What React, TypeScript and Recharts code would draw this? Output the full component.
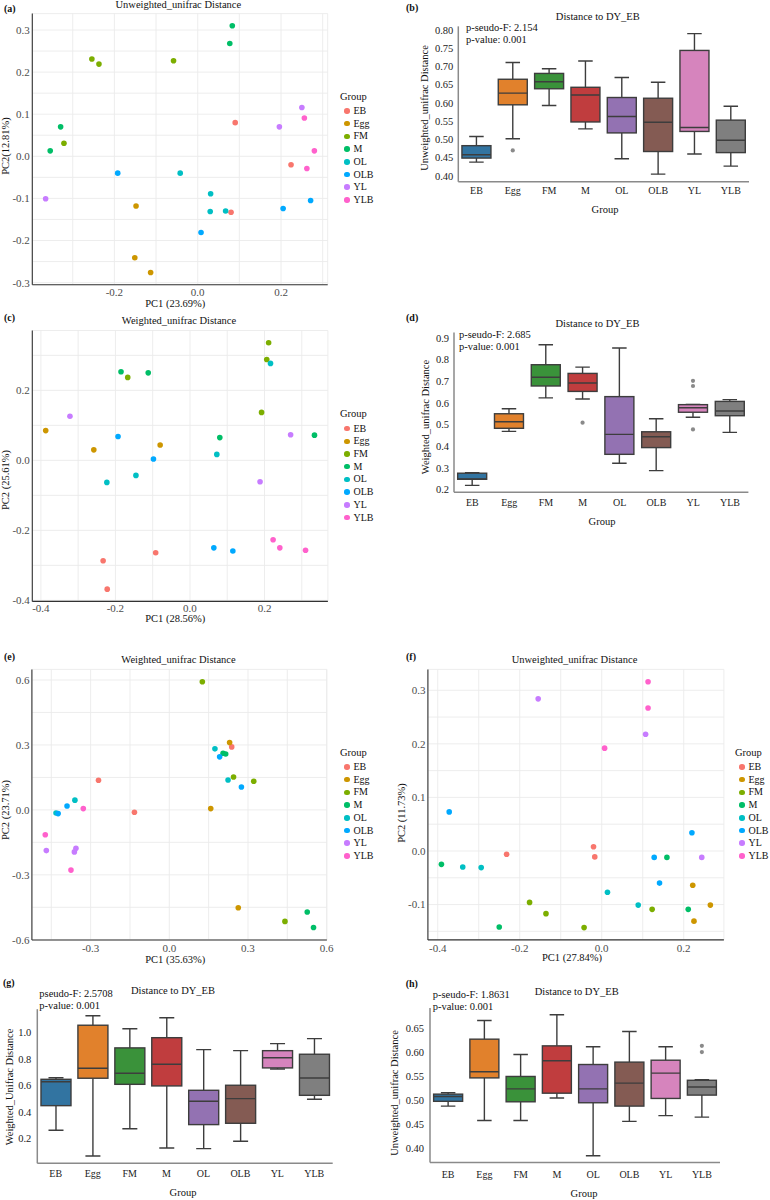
import { ScatterChart, Scatter, XAxis, YAxis, CartesianGrid, BarChart, Bar } from 'recharts';

const FONT = "'Liberation Serif', 'Times New Roman', serif";

const groups = ['EB', 'Egg', 'FM', 'M', 'OL', 'OLB', 'YL', 'YLB'];
const hueColors = ['#F8766D', '#CD9600', '#7CAE00', '#00BE67', '#00BFC4', '#00A9FF', '#C77CFF', '#FF61CC'];
const boxColors = ['#3274A1', '#E1812C', '#3A923A', '#C03D3E', '#9372B2', '#845B53', '#D684BD', '#7F7F7F'];

// group of each sample in the PCoA plots
const sampleGroup = [
  'EB', 'EB', 'EB', 'Egg', 'Egg', 'Egg', 'FM', 'FM', 'FM', 'FM', 'M', 'M', 'M', 'M',
  'OL', 'OL', 'OL', 'OL', 'OLB', 'OLB', 'OLB', 'OLB', 'YL', 'YL', 'YL', 'YLB', 'YLB', 'YLB',
];

// (a) unweighted unifrac PCoA
const aPC1 = [0.090, 0.224, 0.080, -0.148, -0.151, -0.113, -0.254, -0.237, -0.058, -0.321, 0.083, 0.077, -0.329, -0.354,
  -0.042, 0.031, 0.030, 0.067, -0.192, 0.008, 0.205, 0.271, 0.250, 0.196, -0.365, 0.256, 0.280, 0.262];
const aPC2 = [0.080, -0.020, -0.133, -0.118, -0.241, -0.276, 0.231, 0.219, 0.227, 0.031, 0.310, 0.268, 0.070, 0.013,
  -0.040, -0.089, -0.131, -0.130, -0.040, -0.181, -0.124, -0.105, 0.116, 0.070, -0.101, 0.091, 0.013, -0.029];

// (c) weighted unifrac PCoA
const cPC1 = [-0.233, -0.222, -0.092, -0.387, -0.258, -0.080, 0.211, 0.206, 0.192, -0.167, -0.185, -0.112, 0.080, 0.334,
  0.216, 0.072, -0.145, -0.223, -0.193, -0.098, 0.064, 0.115, -0.322, 0.270, 0.188, 0.223, 0.241, 0.310];
const cPC2 = [-0.287, -0.368, -0.264, 0.085, 0.030, 0.044, 0.336, 0.288, 0.137, 0.237, 0.253, 0.250, 0.065, 0.072,
  0.277, 0.017, -0.043, -0.063, 0.068, 0.004, -0.250, -0.259, 0.126, 0.073, -0.061, -0.227, -0.250, -0.257];

// (e) weighted unifrac PCoA
const ePC1 = [0.238, -0.270, -0.133, 0.230, 0.158, 0.263, 0.126, 0.245, 0.322, 0.441, 0.205, 0.215, 0.526, 0.550,
  0.174, 0.224, -0.360, -0.432, 0.192, 0.275, -0.390, -0.424, -0.469, -0.356, -0.362, -0.328, -0.473, -0.375];
const ePC2 = [0.291, 0.137, -0.011, 0.311, 0.006, -0.452, 0.592, 0.152, 0.132, -0.515, 0.262, 0.258, -0.472, -0.543,
  0.282, 0.138, 0.045, -0.014, 0.245, 0.106, 0.018, -0.017, -0.188, -0.177, -0.194, 0.006, -0.115, -0.278];

// (f) unweighted unifrac PCoA
const fPC1 = [-0.232, -0.020, -0.017, 0.222, 0.265, 0.225, -0.176, -0.136, -0.043, 0.123, -0.391, 0.159, 0.211, -0.250,
  -0.339, -0.294, 0.014, 0.089, -0.372, 0.220, 0.128, 0.141, -0.155, 0.107, 0.244, 0.113, 0.113, 0.007];
const fPC2 = [-0.006, 0.008, -0.011, -0.064, -0.101, -0.131, -0.096, -0.117, -0.143, -0.109, -0.025, -0.012, -0.109, -0.142,
  -0.030, -0.031, -0.077, -0.101, 0.073, 0.034, -0.012, -0.060, 0.284, 0.218, -0.012, 0.316, 0.267, 0.192];

// box plots: distance to DY_EB (EB, Egg, FM, M, OL, OLB, YL, YLB)
const bMin = [0.438, 0.502, 0.593, 0.529, 0.447, 0.405, 0.460, 0.427];
const bQ1 = [0.449, 0.595, 0.639, 0.548, 0.518, 0.467, 0.522, 0.464];
const bMed = [0.458, 0.627, 0.658, 0.622, 0.563, 0.547, 0.533, 0.498];
const bQ3 = [0.483, 0.665, 0.681, 0.643, 0.615, 0.613, 0.744, 0.553];
const bMax = [0.508, 0.711, 0.694, 0.715, 0.670, 0.657, 0.790, 0.591];
const bOut = [[], [0.470], [], [], [], [], [], []];

const dMin = [0.220, 0.469, 0.623, 0.618, 0.322, 0.288, 0.534, 0.464];
const dQ1 = [0.248, 0.483, 0.678, 0.653, 0.363, 0.394, 0.557, 0.541];
const dMed = [0.249, 0.513, 0.718, 0.692, 0.455, 0.444, 0.578, 0.563];
const dQ3 = [0.276, 0.550, 0.776, 0.736, 0.629, 0.467, 0.592, 0.607];
const dMax = [0.278, 0.573, 0.868, 0.765, 0.853, 0.527, 0.593, 0.615];
const dOut = [[], [], [], [0.509], [], [], [0.702, 0.678, 0.478], []];

const gMin = [0.263, 0.069, 0.275, 0.130, 0.125, 0.180, 0.726, 0.497];
const gQ1 = [0.449, 0.656, 0.610, 0.598, 0.306, 0.316, 0.734, 0.527];
const gMed = [0.630, 0.731, 0.694, 0.761, 0.482, 0.502, 0.811, 0.658];
const gQ3 = [0.648, 1.056, 0.885, 0.962, 0.565, 0.603, 0.864, 0.837];
const gMax = [0.660, 1.128, 1.030, 1.113, 0.872, 0.864, 0.917, 0.955];
const gOut = [[], [], [], [], [], [], [], []];

const hMin = [0.488, 0.458, 0.458, 0.505, 0.384, 0.456, 0.468, 0.465];
const hQ1 = [0.498, 0.547, 0.497, 0.515, 0.495, 0.488, 0.504, 0.511];
const hMed = [0.508, 0.560, 0.524, 0.583, 0.524, 0.536, 0.557, 0.528];
const hQ3 = [0.513, 0.628, 0.550, 0.614, 0.575, 0.580, 0.584, 0.542];
const hMax = [0.516, 0.667, 0.596, 0.679, 0.612, 0.644, 0.612, 0.543];
const hOut = [[], [], [], [], [], [], [], [0.614, 0.601]];

const isMajor = (v: number, step: number) => Math.abs(v / step - Math.round(v / step)) < 1e-6;

function Txt({ x, y, children, size = 10.5, align = 'center', rotate = false, bold = false, color = '#111' }: any) {
  const tx = align === 'center' ? '-50%' : '0';
  return (
    <div
      style={{
        position: 'absolute', left: x, top: y, whiteSpace: 'nowrap', lineHeight: 1,
        fontFamily: FONT, fontSize: size, fontWeight: bold ? 'bold' : 'normal', color,
        transform: `translate(${tx}, -50%)${rotate ? ' rotate(-90deg)' : ''}`,
      }}
    >
      {children}
    </div>
  );
}

function GroupLegend({ x, y }: { x: number; y: number }) {
  return (
    <>
      <Txt x={x} y={y} align="left" size={10.5}>Group</Txt>
      {groups.map((g, i) => (
        <div key={g}>
          <div style={{
            position: 'absolute', left: x + 4, top: y + 14.3 + i * 12.7 - 2.8,
            width: 5.6, height: 5.6, borderRadius: '50%', background: hueColors[i],
          }} />
          <Txt x={x + 13.5} y={y + 14.3 + i * 12.7} align="left" size={10}>{g}</Txt>
        </div>
      ))}
    </>
  );
}

function ScatterPanel(p: any) {
  const { left, top, width, height, plot, pc1, pc2, xDomain, yDomain, xTicks, yTicks, xStep, yStep, xGap } = p;
  const [x0, x1, y0, y1] = plot;
  const xh = 18;
  const margin = { top: y0 - top, right: left + width - x1, bottom: top + height - y1 - xh, left: 0 };
  const tick = { fill: '#4d4d4d', fontSize: 11, fontFamily: FONT };
  const pts = sampleGroup.map((g, i) => ({ g, x: pc1[i], y: pc2[i] }));
  return (
    <div style={{ position: 'absolute', left, top }}>
      <ScatterChart width={width} height={height} margin={margin}>
        <CartesianGrid stroke="#ebebeb" strokeWidth={0.9} />
        <XAxis
          type="number" dataKey="x" domain={xDomain} ticks={xTicks} allowDataOverflow interval={0} height={xh}
          tickFormatter={(v: number) => (isMajor(v, xStep) ? v.toFixed(1) : '')}
          tickLine={false} tickSize={xGap} tickMargin={2} tick={tick}
          axisLine={{ stroke: '#333', strokeWidth: 1.1 }}
        />
        <YAxis
          type="number" dataKey="y" domain={yDomain} ticks={yTicks} allowDataOverflow interval={0} width={x0 - left}
          tickFormatter={(v: number) => (isMajor(v, yStep) ? v.toFixed(1) : '')}
          tickLine={false} tickSize={1} tickMargin={1.5} tick={tick}
          axisLine={{ stroke: '#333', strokeWidth: 1.1 }}
        />
        {groups.map((g, gi) => (
          <Scatter
            key={g} name={g} data={pts.filter((d) => d.g === g)} fill={hueColors[gi]} isAnimationActive={false}
            shape={(s: any) => <circle cx={s.cx} cy={s.cy} r={2.8} fill={hueColors[gi]} />}
          />
        ))}
      </ScatterChart>
    </div>
  );
}

function BoxShape(props: any) {
  const { x, y, width, height, payload } = props;
  const top = Math.min(y, y + height);
  const h = Math.abs(height);
  const { lo, hi } = payload;
  const py = (v: number) => top + ((hi - v) / (hi - lo)) * h;
  const cx = x + width / 2;
  const cap = width / 4;
  const line = '#3d3d3d';
  return (
    <g>
      <line x1={cx} x2={cx} y1={py(payload.max)} y2={py(payload.q3)} stroke={line} strokeWidth={1.4} />
      <line x1={cx} x2={cx} y1={py(payload.q1)} y2={py(payload.min)} stroke={line} strokeWidth={1.4} />
      <line x1={cx - cap} x2={cx + cap} y1={py(payload.max)} y2={py(payload.max)} stroke={line} strokeWidth={1.4} />
      <line x1={cx - cap} x2={cx + cap} y1={py(payload.min)} y2={py(payload.min)} stroke={line} strokeWidth={1.4} />
      <rect x={x} y={py(payload.q3)} width={width} height={py(payload.q1) - py(payload.q3)}
        fill={payload.color} stroke={line} strokeWidth={1.4} />
      <line x1={x} x2={x + width} y1={py(payload.med)} y2={py(payload.med)} stroke={line} strokeWidth={1.4} />
      {payload.out.map((o: number, k: number) => (
        <circle key={k} cx={cx} cy={py(o)} r={2.1} fill="#8a8a8a" />
      ))}
    </g>
  );
}

function BoxPanel(p: any) {
  const { left, top, width, height, plot, domain, ticks, dec, xGap, yGap } = p;
  const [x0, x1, y0, y1] = plot;
  const xh = 30;
  const margin = { top: y0 - top, right: left + width - x1, bottom: top + height - y1 - xh, left: 0 };
  const rows = groups.map((g, i) => {
    const lo = Math.min(p.min[i], ...p.out[i]);
    const hi = Math.max(p.max[i], ...p.out[i]);
    return {
      group: g, range: [lo, hi], lo, hi, min: p.min[i], q1: p.q1[i], med: p.med[i], q3: p.q3[i], max: p.max[i],
      out: p.out[i], color: boxColors[i],
    };
  });
  const tick = { fill: '#222', fontSize: 10, fontFamily: FONT };
  return (
    <div style={{ position: 'absolute', left, top }}>
      <BarChart width={width} height={height} margin={margin} data={rows} barCategoryGap="10%">
        <XAxis
          dataKey="group" type="category" interval={0} height={xh} tickLine={false} tickSize={xGap} tickMargin={2}
          tick={tick} axisLine={{ stroke: '#8a8a8a', strokeWidth: 1.5 }}
        />
        <YAxis
          type="number" domain={domain} ticks={ticks} allowDataOverflow interval={0} width={x0 - left}
          tickFormatter={(v: number) => v.toFixed(dec)} tickLine={false} tickSize={yGap} tickMargin={2}
          tick={{ ...tick, fontSize: 10.5 }} axisLine={{ stroke: '#8a8a8a', strokeWidth: 1.5 }}
        />
        <Bar dataKey="range" shape={BoxShape} isAnimationActive={false} />
      </BarChart>
    </div>
  );
}

export default function App() {
  return (
    <div style={{ position: 'absolute', left: 0, top: 0, width: 770, height: 1200, background: '#fff', overflow: 'hidden' }}>
      {/* (a) */}
      <ScatterPanel
        left={0} top={0} width={385} height={310} plot={[32.3, 327.7, 13.6, 284.7]}
        pc1={aPC1} pc2={aPC2} xDomain={[-0.397, 0.312]} yDomain={[-0.305, 0.339]}
        xTicks={[-0.3, -0.2, -0.1, 0, 0.1, 0.2, 0.3]} xStep={0.2}
        yTicks={[-0.3, -0.25, -0.2, -0.15, -0.1, -0.05, 0, 0.05, 0.1, 0.15, 0.2, 0.25, 0.3]} yStep={0.1} xGap={1}
      />
      {/* (c) */}
      <ScatterPanel
        left={0} top={310} width={385} height={310} plot={[32.3, 327.9, 330.5, 601.4]}
        pc1={cPC1} pc2={cPC2} xDomain={[-0.423, 0.37]} yDomain={[-0.403, 0.371]}
        xTicks={[-0.4, -0.3, -0.2, -0.1, 0, 0.1, 0.2, 0.3]} xStep={0.2}
        yTicks={[-0.4, -0.3, -0.2, -0.1, 0, 0.1, 0.2, 0.3]} yStep={0.2} xGap={1}
      />
      {/* (e) */}
      <ScatterPanel
        left={0} top={640} width={385} height={320} plot={[31.9, 326.9, 669.4, 940]}
        pc1={ePC1} pc2={ePC2} xDomain={[-0.524, 0.601]} yDomain={[-0.601, 0.649]}
        xTicks={[-0.45, -0.3, -0.15, 0, 0.15, 0.3, 0.45, 0.6]} xStep={0.3}
        yTicks={[-0.6, -0.45, -0.3, -0.15, 0, 0.15, 0.3, 0.45, 0.6]} yStep={0.3} xGap={2}
      />
      {/* (f) */}
      <ScatterPanel
        left={385} top={640} width={385} height={320} plot={[427.9, 723.9, 669.4, 939.9]}
        pc1={fPC1} pc2={fPC2} xDomain={[-0.424, 0.298]} yDomain={[-0.166, 0.339]}
        xTicks={[-0.4, -0.3, -0.2, -0.1, 0, 0.1, 0.2]} xStep={0.2}
        yTicks={[-0.15, -0.1, -0.05, 0, 0.05, 0.1, 0.15, 0.2, 0.25, 0.3]} yStep={0.1} xGap={2}
      />

      {/* (b) */}
      <BoxPanel
        left={385} top={0} width={385} height={220} plot={[458.3, 749, 26.35, 181.8]}
        min={bMin} q1={bQ1} med={bMed} q3={bQ3} max={bMax} out={bOut}
        domain={[0.384, 0.81]} ticks={[0.4, 0.45, 0.5, 0.55, 0.6, 0.65, 0.7, 0.75, 0.8]} dec={2} xGap={3} yGap={3}
      />
      {/* (d) */}
      <BoxPanel
        left={385} top={300} width={385} height={230} plot={[454, 748.4, 332.4, 492.3]}
        min={dMin} q1={dQ1} med={dMed} q3={dQ3} max={dMax} out={dOut}
        domain={[0.188, 0.925]} ticks={[0.2, 0.3, 0.4, 0.5, 0.6, 0.7, 0.8, 0.9]} dec={1} xGap={5} yGap={3}
      />
      {/* (g) */}
      <BoxPanel
        left={0} top={1000} width={385} height={195} plot={[37.3, 332.7, 1009.2, 1163.3]}
        min={gMin} q1={gQ1} med={gMed} q3={gQ3} max={gMax} out={gOut}
        domain={[0.014, 1.177]} ticks={[0.2, 0.4, 0.6, 0.8, 1.0]} dec={1} xGap={5} yGap={4}
      />
      {/* (h) */}
      <BoxPanel
        left={385} top={1000} width={385} height={195} plot={[430, 720, 1008.1, 1162.5]}
        min={hMin} q1={hQ1} med={hMed} q3={hQ3} max={hMax} out={hOut}
        domain={[0.37, 0.693]} ticks={[0.4, 0.45, 0.5, 0.55, 0.6, 0.65]} dec={2} xGap={6} yGap={4}
      />

      {/* scatter texts */}
      <Txt x={4} y={9.3} align="left" bold size={10}>(a)</Txt>
      <Txt x={178.3} y={5} size={10.5}>Unweighted_unifrac Distance</Txt>
      <Txt x={175.3} y={304} size={10.5}>PC1 (23.69%)</Txt>
      <Txt x={6} y={145.7} rotate size={10.5}>PC2(12.81%)</Txt>
      <GroupLegend x={340} y={96.7} />

      <Txt x={4} y={318.3} align="left" bold size={10}>(c)</Txt>
      <Txt x={179} y={321} size={10.5}>Weighted_unifrac Distance</Txt>
      <Txt x={175.3} y={619} size={10.5}>PC1 (28.56%)</Txt>
      <Txt x={6} y={480} rotate size={10.5}>PC2 (25.61%)</Txt>
      <GroupLegend x={340} y={414.3} />

      <Txt x={4} y={657.3} align="left" bold size={10}>(e)</Txt>
      <Txt x={178.5} y={660} size={10.5}>Weighted_unifrac Distance</Txt>
      <Txt x={175.3} y={960} size={10.5}>PC1 (35.63%)</Txt>
      <Txt x={6} y={810} rotate size={10.5}>PC2 (23.71%)</Txt>
      <GroupLegend x={340} y={752.7} />

      <Txt x={406} y={656.7} align="left" bold size={10}>(f)</Txt>
      <Txt x={574.5} y={660} size={10.5}>Unweighted_unifrac Distance</Txt>
      <Txt x={572} y={958.3} size={10.5}>PC1 (27.84%)</Txt>
      <Txt x={401.7} y={813} rotate size={10.5}>PC2 (11.73%)</Txt>
      <GroupLegend x={735} y={752.7} />

      {/* box plot texts */}
      <Txt x={406} y={7.7} align="left" bold size={10}>(b)</Txt>
      <Txt x={597.8} y={16.7} size={10.5}>Distance to DY_EB</Txt>
      <Txt x={466} y={28.3} align="left" size={10.5}>p-seudo-F: 2.154</Txt>
      <Txt x={466} y={40} align="left" size={10.5}>p-value: 0.001</Txt>
      <Txt x={425} y={107.5} rotate size={10.5}>Unweighted_unifrac Distance</Txt>
      <Txt x={605} y={210} size={10.5}>Group</Txt>

      <Txt x={406} y={318.3} align="left" bold size={10}>(d)</Txt>
      <Txt x={597.5} y={324.3} size={10.5}>Distance to DY_EB</Txt>
      <Txt x={459} y={335} align="left" size={10.5}>p-seudo-F: 2.685</Txt>
      <Txt x={459} y={347.3} align="left" size={10.5}>p-value: 0.001</Txt>
      <Txt x={425.7} y={416.7} rotate size={10.5}>Weighted_unifrac Distance</Txt>
      <Txt x={602} y={522.3} size={10.5}>Group</Txt>

      <Txt x={3} y={983.3} align="left" bold size={10}>(g)</Txt>
      <Txt x={173} y={991} size={10.5}>Distance to DY_EB</Txt>
      <Txt x={39.3} y={994.3} align="left" size={10.5}>pseudo-F: 2.5708</Txt>
      <Txt x={39.3} y={1006} align="left" size={10.5}>p-value: 0.001</Txt>
      <Txt x={9.5} y={1086.7} rotate size={10.5}>Weighted_Unifrac Distance</Txt>
      <Txt x={183} y={1193.3} size={10.5}>Group</Txt>

      <Txt x={405.7} y={984.3} align="left" bold size={10}>(h)</Txt>
      <Txt x={576.7} y={992} size={10.5}>Distance to DY_EB</Txt>
      <Txt x={432.7} y={995} align="left" size={10.5}>p-seudo-F: 1.8631</Txt>
      <Txt x={432.7} y={1006.7} align="left" size={10.5}>p-value: 0.001</Txt>
      <Txt x={395} y={1092.5} rotate size={10.5}>Unweighted_unifrac Distance</Txt>
      <Txt x={584} y={1194} size={10.5}>Group</Txt>
    </div>
  );
}
